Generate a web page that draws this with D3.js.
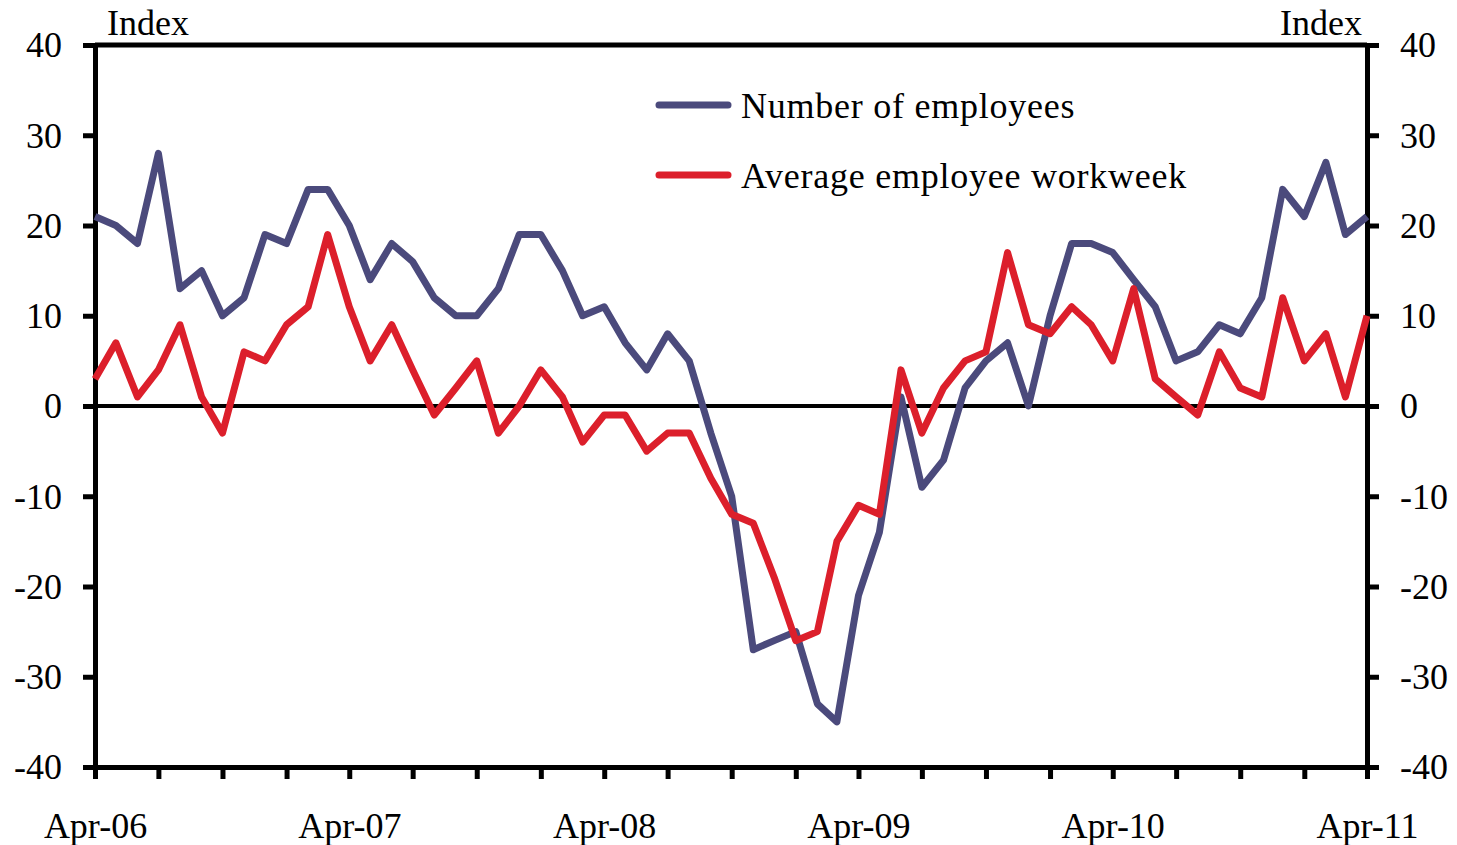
<!DOCTYPE html>
<html>
<head>
<meta charset="utf-8">
<script src="https://cdn.jsdelivr.net/npm/d3@7"></script>
<style>
  html, body { margin: 0; padding: 0; background: #fff; }
  svg { display: block; }
  text { font-family: "Liberation Serif", "Times New Roman", serif; fill: #000; }
</style>
</head>
<body>
<div id="chart"></div>
<script>
// monthly, Apr-06 .. Apr-11
var months = d3.timeMonth.range(new Date(2006, 3, 1), new Date(2011, 4, 1));

var employees = [21, 20, 18, 28, 13, 15, 10, 12, 19, 18, 24, 24,
                 20, 14, 18, 16, 12, 10, 10, 13, 19, 19, 15, 10,
                 11, 7, 4, 8, 5, -3, -10, -27, -26, -25, -33, -35,
                 -21, -14, 1, -9, -6, 2, 5, 7, 0, 10, 18, 18,
                 17, 14, 11, 5, 6, 9, 8, 12, 24, 21, 27, 19, 21];

var workweek = [3, 7, 1, 4, 9, 1, -3, 6, 5, 9, 11, 19,
                11, 5, 9, 4, -1, 2, 5, -3, 0, 4, 1, -4,
                -1, -1, -5, -3, -3, -8, -12, -13, -19, -26, -25, -15,
                -11, -12, 4, -3, 2, 5, 6, 17, 9, 8, 11, 9,
                5, 13, 3, 1, -1, 6, 2, 1, 12, 5, 8, 1, 10];

var yTicks = [-40, -30, -20, -10, 0, 10, 20, 30, 40];
var seriesNames = ["Number of employees", "Average employee workweek"];
var seriesColors = ["#4b4a7c", "#dc1f2b"];

var width = 1457, height = 845;
var margin = {top: 45, right: 90, bottom: 78, left: 95};

var svg = d3.select("#chart").append("svg")
    .attr("width", width)
    .attr("height", height);

var xScale = d3.scaleTime()
    .domain(d3.extent(months))
    .range([margin.left, width - margin.right]);

var yScale = d3.scaleLinear()
    .domain([-40, 40])
    .range([height - margin.bottom, margin.top]);

var fmt = d3.timeFormat("%b-%y");
var yFmt = function(d){ return String(d); };   // plain hyphen, not U+2212

// top border
svg.append("line")
    .attr("x1", xScale.range()[0]).attr("x2", xScale.range()[1])
    .attr("y1", yScale(40)).attr("y2", yScale(40))
    .attr("stroke", "#000").attr("stroke-width", 5);

var y_left = d3.axisLeft(yScale).tickValues(yTicks).tickFormat(yFmt)
    .tickSize(12).tickSizeOuter(0).tickPadding(21);
var y_right = d3.axisRight(yScale).tickValues(yTicks).tickFormat(yFmt)
    .tickSize(12).tickSizeOuter(0).tickPadding(21);
var x_axis = d3.axisBottom(xScale)
    .ticks(d3.timeMonth.every(3))
    .tickSize(12).tickSizeOuter(0)
    .tickFormat(function(d){ return d.getMonth() === 3 ? fmt(d) : ""; });

svg.append("g")
    .attr("class", "y axis")
    .attr("transform", "translate(" + margin.left + ",0)")
    .call(y_left);

svg.append("g")
    .attr("class", "y axis")
    .attr("transform", "translate(" + (width - margin.right) + ",0)")
    .call(y_right);

svg.append("g")
    .attr("class", "x axis")
    .attr("transform", "translate(0," + (height - margin.bottom) + ")")
    .call(x_axis);

svg.selectAll(".axis path.domain").attr("stroke", "#000").attr("stroke-width", 5);
svg.selectAll(".axis .tick line").attr("stroke", "#000").attr("stroke-width", 5);
svg.selectAll(".axis text")
    .attr("font-family", "Liberation Serif, Times New Roman, serif")
    .attr("font-size", 36)
    .attr("fill", "#000");
svg.selectAll(".y.axis text").attr("dy", "0.33em");
svg.selectAll(".x.axis text").attr("y", 71).attr("dy", 0);

// zero line
svg.append("line")
    .attr("x1", xScale.range()[0]).attr("x2", xScale.range()[1])
    .attr("y1", yScale(0)).attr("y2", yScale(0))
    .attr("stroke", "#000").attr("stroke-width", 4);

// axis titles
svg.append("text")
    .attr("x", 107).attr("y", 35)
    .attr("font-size", 36)
    .text("Index");
svg.append("text")
    .attr("x", 1362).attr("y", 35)
    .attr("text-anchor", "end")
    .attr("font-size", 36)
    .text("Index");

var line = d3.line()
    .x(function(d, i){ return xScale(months[i]); })
    .y(function(d){ return yScale(d); });

var g = svg.append("g");
[employees, workweek].forEach(function(s, k){
    g.append("path")
        .attr("class", "line")
        .attr("d", line(s))
        .attr("fill", "none")
        .attr("stroke", seriesColors[k])
        .attr("stroke-width", 7)
        .attr("stroke-linejoin", "round");
});

// legend
var legend = svg.append("g").attr("transform", "translate(659,105)");
seriesNames.forEach(function(name, k){
    var row = legend.append("g").attr("transform", "translate(0," + (k * 70) + ")");
    row.append("line")
        .attr("x1", 0).attr("x2", 69)
        .attr("stroke", seriesColors[k])
        .attr("stroke-width", 7)
        .attr("stroke-linecap", "round");
    row.append("text")
        .attr("x", 82).attr("y", 13)
        .attr("font-size", 36)
        .attr("letter-spacing", 0.75)
        .text(name);
});
</script>
</body>
</html>
